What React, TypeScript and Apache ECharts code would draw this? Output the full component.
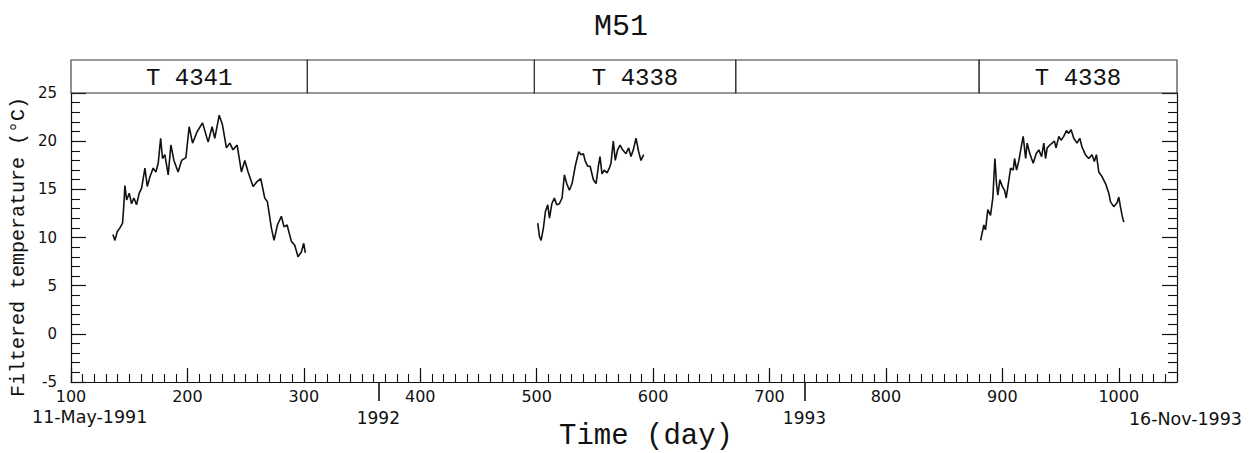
import React, { useEffect, useRef } from "react";
import * as echarts from "echarts";

// Mooring M51 – filtered temperature record, three deployments
const seg1Days = [136, 137.7, 139.7, 142, 144.3, 145.3, 146.3, 147.8, 150, 152, 154, 156.3, 158.6, 160.6, 163.5, 165.5, 167.8, 170.6, 172.9, 174.9, 177, 178.6, 180.6, 183.5, 185.8, 188.4, 192, 195, 198.7, 201.5, 204.4, 208.4, 213, 217.8, 221.2, 223.5, 227.3, 230.1, 233.5, 236.4, 239.2, 242.7, 246.4, 249.3, 252.1, 256.4, 259.8, 263, 266.4, 268.7, 272.1, 274.4, 277.3, 280.7, 283, 285.6, 289.3, 292.2, 295, 297.9, 299.9, 301.3];
const seg1Temps = [10.3, 9.7, 10.6, 11.0, 11.5, 13.2, 15.4, 13.9, 14.6, 13.5, 14.1, 13.4, 14.6, 15.1, 17.2, 15.3, 16.3, 17.2, 16.8, 17.7, 20.3, 18.2, 18.6, 16.5, 19.6, 18.0, 16.8, 18.0, 18.3, 21.5, 19.8, 21.0, 21.9, 19.9, 21.5, 20.3, 22.7, 21.7, 19.3, 19.8, 19.1, 19.6, 16.8, 18.0, 16.8, 15.3, 15.8, 16.1, 14.1, 13.7, 11.0, 9.7, 11.3, 12.2, 11.1, 11.3, 9.6, 9.2, 8.0, 8.5, 9.4, 8.4];

const seg2Days = [500.9, 502.4, 503.8, 505.8, 507.5, 509.5, 511, 513, 515.2, 517.2, 519.5, 521.8, 523.8, 525.8, 528.1, 530.4, 533.3, 536.1, 538.1, 540.1, 541.8, 543.8, 545.9, 548.7, 551, 553, 554.4, 556.1, 558.1, 560.4, 562.4, 563.8, 565.8, 567.5, 569.5, 571.6, 573.8, 576.7, 579, 581, 583, 585.3, 587.6, 589.6, 591.9];
const seg2Temps = [11.5, 10.1, 9.7, 11.0, 12.7, 13.4, 12.0, 13.5, 14.1, 13.4, 13.5, 14.1, 16.5, 15.6, 14.9, 15.6, 17.5, 18.9, 18.6, 18.7, 17.9, 17.4, 17.4, 16.0, 15.6, 17.4, 18.4, 16.6, 17.0, 16.7, 17.2, 17.7, 20.0, 18.0, 19.1, 19.6, 19.1, 18.7, 19.3, 18.4, 19.1, 20.3, 18.9, 18.0, 18.6];

const seg3Days = [881.3, 884.1, 885.5, 887.5, 889.8, 891.8, 893.6, 895, 896.1, 897.9, 899.9, 901.9, 903.3, 905, 907.1, 909.3, 910.5, 912.2, 914.2, 916.2, 917.9, 920, 921.3, 923.6, 926.5, 929, 931.3, 933.7, 935.6, 937.1, 938.5, 940.8, 942.7, 944.7, 946.1, 948.5, 950.4, 952.7, 955.1, 957, 959, 961.3, 964.1, 966.5, 968.4, 971.3, 974.2, 977, 979, 980.8, 982.8, 985.7, 988.6, 991.4, 992.9, 995.7, 998.5, 1000, 1001.4, 1002.8, 1004.3];
const seg3Temps = [9.7, 11.3, 10.8, 12.9, 12.3, 14.1, 18.2, 15.5, 14.4, 16.0, 15.3, 14.9, 14.1, 15.5, 17.2, 17.0, 18.2, 17.0, 18.0, 19.4, 20.5, 18.2, 19.8, 18.7, 17.7, 18.7, 19.1, 18.4, 19.8, 18.2, 19.3, 19.6, 19.8, 20.0, 19.3, 20.5, 20.1, 20.5, 21.1, 20.8, 21.2, 20.3, 19.8, 20.3, 19.4, 18.6, 18.2, 18.6, 17.9, 18.6, 16.8, 16.3, 15.6, 14.6, 13.7, 13.2, 13.6, 14.2, 13.2, 12.3, 11.6];

// Instrument bands across the top
const bandStarts = [100, 303, 498, 671, 880];
const bandEnds = [303, 498, 671, 880, 1050];
const bandLabels = ["T 4341", "", "T 4338", "", "T 4338"];

// Year boundaries on the time axis
const yearDays = [364, 730];
const yearLabels = ["1992", "1993"];

const startDateLabel = "11-May-1991";
const endDateLabel = "16-Nov-1993";

const pairs = (xs: number[], ys: number[]) => xs.map((x, i) => [x, ys[i]]);

export default function App() {
  const ref = useRef<HTMLDivElement>(null);

  useEffect(() => {
    const chart = echarts.init(ref.current!, null, { renderer: "svg" });
    const ink = "#111";
    const mono = "Liberation Mono";
    const sans = "DejaVu Sans";
    const axisLine = { show: true, onZero: false, lineStyle: { color: ink, width: 1.2 } };
    const noLine = { show: false, onZero: false };

    const lineSeries = (data: number[][]) => ({
      type: "line",
      xAxisIndex: 0,
      yAxisIndex: 0,
      data,
      showSymbol: false,
      symbol: "none",
      lineStyle: { color: ink, width: 1.6 },
      silent: true,
    });

    chart.setOption({
      animation: false,
      backgroundColor: "#ffffff",
      grid: [
        { left: 71, right: 78, top: 93, bottom: 71 },
        { left: 71, right: 78, top: 60, height: 33 },
      ],
      xAxis: [
        {
          gridIndex: 0,
          type: "value",
          position: "bottom",
          min: 100,
          max: 1050,
          interval: 100,
          axisLine,
          axisTick: { show: true, inside: true, length: 14, lineStyle: { color: ink, width: 1.2 } },
          axisLabel: {
            show: true,
            margin: 6,
            showMaxLabel: false,
            color: ink,
            fontFamily: sans,
            fontSize: 16,
            formatter: (v: number) => String(v),
          },
          splitLine: { show: false },
        },
        {
          gridIndex: 0,
          type: "value",
          position: "bottom",
          min: 100,
          max: 1050,
          interval: 10,
          axisLine: noLine,
          axisTick: { show: true, inside: true, length: 8, lineStyle: { color: ink, width: 1.1 } },
          axisLabel: { show: false },
          splitLine: { show: false },
        },
        {
          gridIndex: 0,
          type: "value",
          position: "bottom",
          min: 100,
          max: 1050,
          axisLine: noLine,
          axisTick: { show: true, inside: false, length: 19, customValues: yearDays, lineStyle: { color: ink, width: 1.6 } },
          axisLabel: {
            show: true,
            customValues: yearDays,
            margin: 27,
            color: ink,
            fontFamily: sans,
            fontSize: 17,
            formatter: (v: number) => yearLabels[yearDays.indexOf(v)] ?? "",
          },
          splitLine: { show: false },
        },
        { gridIndex: 1, type: "value", min: 100, max: 1050, show: false },
      ],
      yAxis: [
        {
          gridIndex: 0,
          type: "value",
          position: "left",
          min: -5,
          max: 25,
          interval: 5,
          axisLine,
          axisTick: { show: true, inside: true, length: 15, lineStyle: { color: ink, width: 1.2 } },
          minorTick: { show: true, splitNumber: 5, length: 9, lineStyle: { color: ink, width: 1.1 } },
          axisLabel: { show: true, margin: 14, color: ink, fontFamily: sans, fontSize: 15 },
          splitLine: { show: false },
          minorSplitLine: { show: false },
        },
        {
          gridIndex: 0,
          type: "value",
          position: "right",
          min: -5,
          max: 25,
          interval: 5,
          axisLine,
          axisTick: { show: true, inside: true, length: 15, lineStyle: { color: ink, width: 1.2 } },
          minorTick: { show: true, splitNumber: 5, length: 9, lineStyle: { color: ink, width: 1.1 } },
          axisLabel: { show: false },
          splitLine: { show: false },
          minorSplitLine: { show: false },
        },
        { gridIndex: 1, type: "value", min: 0, max: 1, show: false },
      ],
      series: [
        lineSeries(pairs(seg1Days, seg1Temps)),
        lineSeries(pairs(seg2Days, seg2Temps)),
        lineSeries(pairs(seg3Days, seg3Temps)),
        {
          type: "custom",
          xAxisIndex: 3,
          yAxisIndex: 2,
          silent: true,
          clip: false,
          data: bandStarts.map((s, i) => [s, bandEnds[i]]),
          renderItem: (params: any, api: any) => {
            const topLeft = api.coord([api.value(0), 1]);
            const bottomRight = api.coord([api.value(1), 0]);
            const label = bandLabels[params.dataIndex];
            return {
              type: "group",
              children: [
                {
                  type: "rect",
                  shape: {
                    x: topLeft[0],
                    y: topLeft[1],
                    width: bottomRight[0] - topLeft[0],
                    height: bottomRight[1] - topLeft[1],
                  },
                  style: { fill: "none", stroke: "#333", lineWidth: 1.1 },
                },
                {
                  type: "text",
                  x: (topLeft[0] + bottomRight[0]) / 2,
                  y: (topLeft[1] + bottomRight[1]) / 2 + 2,
                  style: {
                    text: label,
                    align: "center",
                    verticalAlign: "middle",
                    fontFamily: mono,
                    fontSize: 24,
                    fill: ink,
                  },
                },
              ],
            };
          },
        },
      ],
      graphic: [
        {
          type: "text",
          x: 621,
          y: 27,
          style: { text: "M51", align: "center", verticalAlign: "middle", fontFamily: mono, fontSize: 30, fill: ink },
        },
        {
          type: "text",
          x: 18.5,
          y: 247,
          rotation: Math.PI / 2,
          style: {
            text: "Filtered temperature (°C)",
            align: "center",
            verticalAlign: "middle",
            fontFamily: mono,
            fontSize: 20,
            fill: ink,
          },
        },
        {
          type: "text",
          x: 646,
          y: 436,
          style: { text: "Time (day)", align: "center", verticalAlign: "middle", fontFamily: mono, fontSize: 29, fill: ink },
        },
        {
          type: "text",
          x: 32,
          y: 417,
          style: { text: startDateLabel, align: "left", verticalAlign: "middle", fontFamily: sans, fontSize: 17.5, fill: ink },
        },
        {
          type: "text",
          x: 1242,
          y: 419,
          style: { text: endDateLabel, align: "right", verticalAlign: "middle", fontFamily: sans, fontSize: 17.5, fill: ink },
        },
      ],
    });

    return () => chart.dispose();
  }, []);

  return (
    <div
      ref={ref}
      style={{ position: "absolute", left: 0, top: 0, width: 1255, height: 453, background: "#fff" }}
    />
  );
}
